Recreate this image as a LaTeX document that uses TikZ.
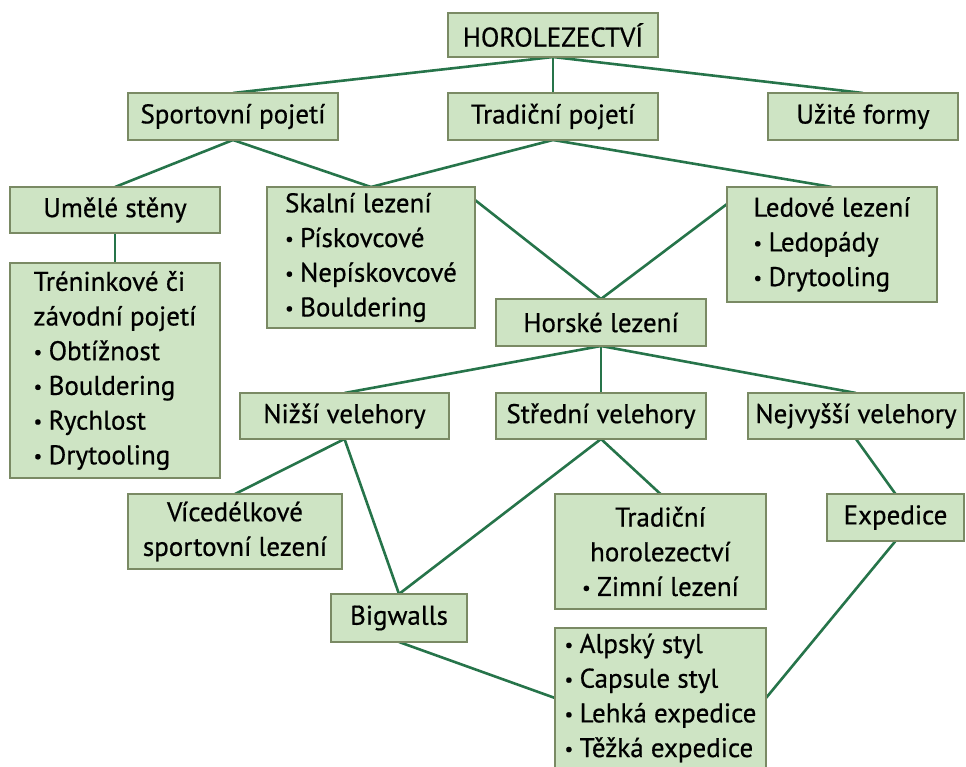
\documentclass[tikz,border=0pt]{standalone}
\usepackage{fontspec}
\setmainfont{PT Sans}[FakeBold=0.6]
\usetikzlibrary{backgrounds}
\definecolor{boxfill}{RGB}{206,228,196}
\definecolor{boxline}{RGB}{122,138,100}
\definecolor{conn}{RGB}{38,116,74}
\newcommand\bul{\raisebox{0.12ex}{\fontsize{19}{19}\selectfont •}\hspace{0.24em}}
\begin{document}
\begin{tikzpicture}[x=1pt,y=-1pt,
 box/.style={draw=boxline, fill=boxfill, line width=2.2pt, inner sep=0pt, outer sep=0pt, align=left, font=\fontsize{27}{34.7}\selectfont, text=black},
 link/.style={draw=conn, line width=2.6pt}]
\useasboundingbox (0,0) rectangle (966,767);
\node[box, minimum width=210, minimum height=44] (horo) at (553,35) {HOROLEZECTVÍ};
\node[box, minimum width=210, minimum height=47] (sport) at (233,116.5) {Sportovní pojetí};
\node[box, minimum width=210, minimum height=47] (trad) at (553,116.5) {Tradiční pojetí};
\node[box, minimum width=190, minimum height=47] (uzite) at (863,116.5) {Užité formy};
\node[box, minimum width=210, minimum height=46] (umele) at (115,210) {Umělé stěny};
\node[box, minimum width=210, minimum height=215] (tren) at (115,370.5) {Tréninkové či\\závodní pojetí\\\bul Obtížnost\\\bul Bouldering\\\bul Rychlost\\\bul Drytooling};
\node[box, minimum width=208, minimum height=141] (skal) at (371,257.5) {Skalní lezení\\\bul Pískovcové\\\bul Nepískovcové\\\bul Bouldering};
\node[box, minimum width=210, minimum height=115] (led) at (832,244.5) {Ledové lezení\\\bul Ledopády\\\bul Drytooling};
\node[box, minimum width=210, minimum height=47] (hors) at (601,322.5) {Horské lezení};
\node[box, minimum width=209, minimum height=46] (nizsi) at (344.5,416) {Nižší velehory};
\node[box, minimum width=210, minimum height=46] (stred) at (601,416) {Střední velehory};
\node[box, minimum width=216, minimum height=46] (nejv) at (856,416) {Nejvyšší velehory};
\node[box, align=center, minimum width=214, minimum height=75] (vice) at (235,531.5) {Vícedélkové\\sportovní lezení};
\node[box, align=center, minimum width=211, minimum height=115] (tradh) at (660.5,551.5) {Tradiční\\horolezectví\\\bul Zimní lezení};
\node[box, minimum width=137, minimum height=47] (exp) at (895.5,517.5) {Expedice};
\node[box, minimum width=136, minimum height=48] (big) at (399,618) {Bigwalls};
\node[box, minimum width=211, minimum height=140] (alp) at (660.5,698) {\bul Alpský styl\\\bul Capsule styl\\\bul Lehká expedice\\\bul Těžká expedice};
\begin{scope}[on background layer]
\draw[link] (horo.south) -- (sport.north);
\draw[link] (horo.south) -- (trad.north);
\draw[link] (horo.south) -- (uzite.north);
\draw[link] (sport.south) -- (umele.north);
\draw[link] (sport.south) -- (skal.north);
\draw[link] (trad.south) -- (skal.north);
\draw[link] (trad.south) -- (led.north);
\draw[link] (umele.south) -- (tren.north);
\draw[link] (hors.north) -- ([yshift=-13pt]skal.north east);
\draw[link] (hors.north) -- ([yshift=-17pt]led.north west);
\draw[link] (hors.south) -- (nizsi.north);
\draw[link] (hors.south) -- (stred.north);
\draw[link] (hors.south) -- (nejv.north);
\draw[link] (nizsi.south) -- (vice.north);
\draw[link] (nizsi.south) -- (big.north);
\draw[link] (stred.south) -- (big.north);
\draw[link] (stred.south) -- (tradh.north);
\draw[link] (nejv.south) -- (exp.north);
\draw[link] (exp.south) -- (alp.east);
\draw[link] (big.south) -- (alp.west);
\end{scope}
\end{tikzpicture}
\end{document}
